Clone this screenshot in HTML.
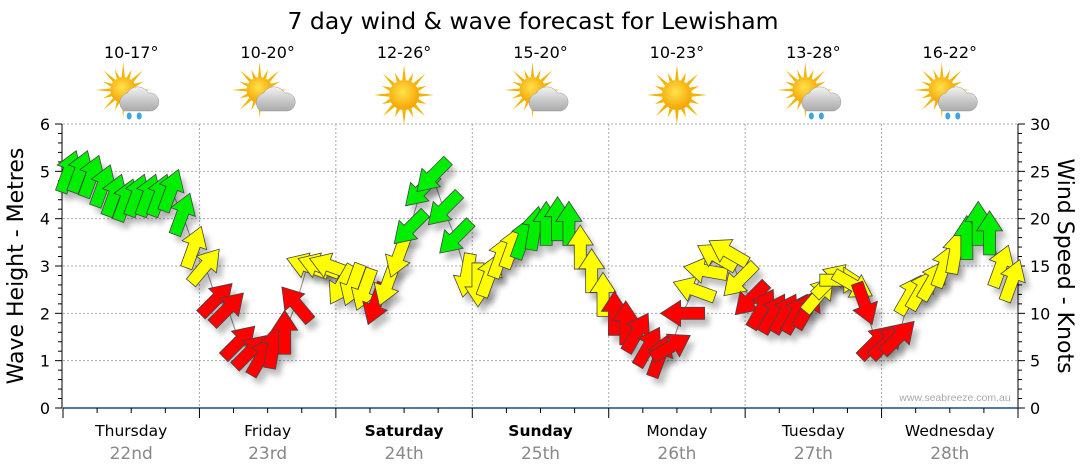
<!DOCTYPE html>
<html><head><meta charset="utf-8"><style>
body{margin:0;background:#fff;}
svg{display:block;font-family:"Liberation Sans",sans-serif;}
</style></head><body>
<svg id="chart" width="1080" height="475" viewBox="0 0 1080 475">
<defs>
<filter id="sh" x="-50%" y="-50%" width="200%" height="200%"><feGaussianBlur stdDeviation="3"/></filter>
<radialGradient id="sun" cx="45%" cy="40%" r="60%"><stop offset="0" stop-color="#ffe34d"/><stop offset="1" stop-color="#f5a300"/></radialGradient>
<linearGradient id="cloud" x1="0" y1="0" x2="0" y2="1"><stop offset="0" stop-color="#f2f2f2"/><stop offset="1" stop-color="#a9a9a9"/></linearGradient>
</defs>
<text x="533" y="29" text-anchor="middle" font-size="23.5" font-family="'DejaVu Sans',sans-serif">7 day wind &amp; wave forecast for Lewisham</text>
<g id="header"></g>
<g id="grid"></g>
<g id="axes"></g>
<g id="series"></g>
<text x="955" y="401" text-anchor="middle" font-size="10.5" fill="#aaa">www.seabreeze.com.au</text>
<text transform="translate(23,266) rotate(-90)" text-anchor="middle" font-size="22" font-family="'DejaVu Sans',sans-serif">Wave Height - Metres</text>
<text transform="translate(1058,266) rotate(90)" text-anchor="middle" font-size="22" font-family="'DejaVu Sans',sans-serif">Wind Speed - Knots</text>
</svg>
<script>
const days = ["Thursday","Friday","Saturday","Sunday","Monday","Tuesday","Wednesday"];
const dates = ["22nd","23rd","24th","25th","26th","27th","28th"];
const temps = ["10-17°","10-20°","12-26°","15-20°","10-23°","13-28°","16-22°"];
const icons = ["rain","cloud","sun","cloud","sun","rain","rain"];
const boldDays = [false,false,true,true,false,false,false];
const waveTicks = [0,1,2,3,4,5,6];
const windTicks = [0,5,10,15,20,25,30];
// wind speed (knots) every 2 hours
const windSpeed = [
 25,25,24.5,23.5,22.5,22,22.5,22.5,22.5,23,20.5,17,
 15,11.5,10.5,7,6,5.5,6.5,8,11,15,15,15,
 13,13,12.5,11,13,16,19,23,24.5,21,18,14,
 13,14,16,17,18,19,19.5,20,19.5,17,14.5,12,
 10,9,8,6.5,5.5,6.5,10,12.5,14.5,16,16.5,13.5,
 11.5,10.5,10,10,10,10.5,12,13.5,13.5,13,11,7,
 7,7.5,12,12.5,13.5,15,16.5,18,19.5,18.5,15,13.5];
// direction arrow points toward (deg, 0=up, clockwise)
const windDir = [
 20,20,20,20,20,20,20,20,20,20,20,20,
 40,45,45,45,45,30,10,0,-40,-70,-70,-70,
 210,200,200,200,200,200,225,225,225,225,225,190,
 180,20,20,20,20,10,0,0,0,0,0,0,
 0,0,30,30,20,60,270,290,280,300,300,225,
 225,30,30,30,30,30,40,45,90,120,160,45,
 45,45,30,30,30,20,10,0,0,0,20,20];

const NS="http://www.w3.org/2000/svg";
const X0=63, X1=1018, Y0=408, YT=124;
const dayW=(X1-X0)/7;
const xHour = h => X0 + h*dayW/24;
const yWave = m => Y0 - m*(Y0-YT)/6;
const yWind = k => Y0 - k*(Y0-YT)/30;
function mk(tag, attrs, parent){const e=document.createElementNS(NS,tag);for(const k in attrs)e.setAttribute(k,attrs[k]);parent.appendChild(e);return e;}
const header=document.getElementById('header'), grid=document.getElementById('grid'), axes=document.getElementById('axes'), series=document.getElementById('series');

function sunIcon(g,cx,cy,r){
  for(let i=0;i<16;i++){const a=i*Math.PI/8, L=(i%2?r+9:r+15);
    mk('polygon',{points:`${cx+Math.cos(a-0.12)*r},${cy+Math.sin(a-0.12)*r} ${cx+Math.cos(a)*L},${cy+Math.sin(a)*L} ${cx+Math.cos(a+0.12)*r},${cy+Math.sin(a+0.12)*r}`,fill:'#f2b400'},g);}
  mk('circle',{cx,cy,r,fill:'url(#sun)'},g);
}
days.forEach((d,i)=>{
  const cx=X0+dayW*(i+0.5);
  const t=mk('text',{x:cx,y:58,'text-anchor':'middle','font-size':16,'font-family':"'DejaVu Sans',sans-serif"},header);
  t.textContent=temps[i];
  
  
  const g=mk('g',{},header);
  
  
  if(icons[i]==='sun'){sunIcon(g,cx,95,15);}
  else{
    sunIcon(g,cx-8,90,13);
    mk('path',{d:`M${cx-7} 111 a10 10 0 0 1 3 -18 a12 12 0 0 1 21 0 a9 9 0 0 1 3 18 z`,fill:'url(#cloud)',stroke:'#999','stroke-width':0.5},g);
    if(icons[i]==='rain'){mk('ellipse',{cx:cx-2,cy:116,rx:2.5,ry:3.5,fill:'#3aa8e0'},g);mk('ellipse',{cx:cx+8,cy:116,rx:2.5,ry:3.5,fill:'#3aa8e0'},g);}
  }
  const dl=mk('text',{x:cx,y:436,'text-anchor':'middle','font-size':15.5,'font-weight':boldDays[i]?'bold':'normal','font-family':"'DejaVu Sans',sans-serif"},axes);
  dl.textContent=d;
  
  
  const dt=mk('text',{x:cx,y:459,'text-anchor':'middle','font-size':17,fill:'#888','font-family':"'DejaVu Sans',sans-serif"},axes);
  dt.textContent=dates[i];
  
  
});
waveTicks.forEach(m=>{ if(m>0){const l=mk('line',{x1:X0,x2:X1,y1:yWave(m),y2:yWave(m),stroke:'#aaa','stroke-dasharray':'2,2'},grid);
  
  }
  const t=mk('text',{x:50,y:yWave(m)+6,'text-anchor':'end','font-size':16,'font-family':"'DejaVu Sans',sans-serif"},axes);t.textContent=m;
  
  
});
for(let i=1;i<7;i++){const l=mk('line',{x1:X0+dayW*i,x2:X0+dayW*i,y1:YT,y2:Y0,stroke:'#aaa','stroke-dasharray':'2,2'},grid);
  
  }
windTicks.forEach(k=>{const t=mk('text',{x:1030,y:yWind(k)+6,'font-size':16,'font-family':"'DejaVu Sans',sans-serif"},axes);t.textContent=k;
  
  });
mk('line',{x1:X0-1,x2:X0-1,y1:YT,y2:Y0,stroke:'#000'},axes);
mk('line',{x1:X1,x2:X1,y1:YT,y2:Y0,stroke:'#000'},axes);
mk('line',{x1:X0,x2:X1,y1:Y0,y2:Y0,stroke:'#1b4f7a','stroke-width':1.5},axes);
for(let v=0;v<=30;v++){const y=Y0-v*(Y0-YT)/30;mk('line',{x1:X0-1-(v%5?4:7),x2:X0-1,y1:y,y2:y,stroke:'#000'},axes);mk('line',{x1:X1,x2:X1+(v%5?4:7),y1:y,y2:y,stroke:'#000'},axes);}
for(let h=0;h<=168;h+=6){const x=xHour(h);mk('line',{x1:x,x2:x,y1:Y0,y2:Y0+(h%24?5:10),stroke:'#000'},axes);}
const pts=windSpeed.map((k,i)=>[xHour(i*2+1),yWind(k)]);
mk('polyline',{points:pts.map(p=>p.join(',')).join(' '),fill:'none',stroke:'#888','stroke-width':1},series);
const arrow="0,-22 13,-2 6,-2 6,22 -6,22 -6,-2 -13,-2";
windSpeed.forEach((k,i)=>{
  const [x,y]=pts[i];
  const s=mk('polygon',{points:arrow,transform:`translate(${x+5},${y+7}) rotate(${windDir[i]})`,fill:'#000',opacity:0.25,filter:'url(#sh)'},series);
  
  
});
windSpeed.forEach((k,i)=>{
  const [x,y]=pts[i];
  const col=k<11.75?'#ff0000':(k<17.5?'#ffff00':'#00ee00');
  const a=mk('polygon',{points:arrow,transform:`translate(${x},${y}) rotate(${windDir[i]})`,fill:col,stroke:'#444','stroke-width':0.8},series);
  
  
});
</script>
</body></html>
